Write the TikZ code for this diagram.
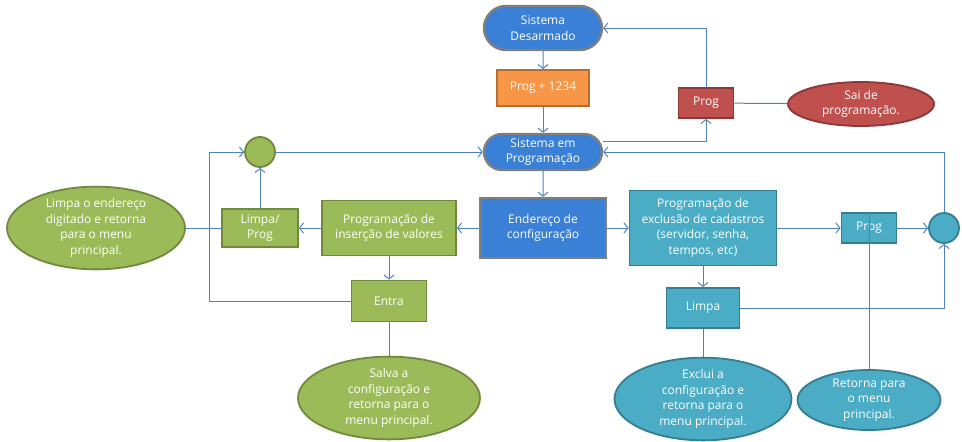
\documentclass[tikz,border=0pt]{standalone}
\usepackage{fontspec}
\setmainfont{Open Sans}
\usetikzlibrary{shapes.geometric}
\usetikzlibrary{shapes.misc}
\usetikzlibrary{arrows.meta}
\definecolor[named]{LinkBlue}{HTML}{4F81BD}
\definecolor[named]{SysBlue}{HTML}{3A80D6}
\definecolor[named]{SysEdge}{HTML}{7F7F7F}
\definecolor[named]{ProgOrange}{HTML}{F79646}
\definecolor[named]{OrangeEdge}{HTML}{B66D31}
\definecolor[named]{ProgRed}{HTML}{C0504D}
\definecolor[named]{RedEdge}{HTML}{8C3836}
\definecolor[named]{ProgGreen}{HTML}{9BBB59}
\definecolor[named]{GreenEdge}{HTML}{71893F}
\definecolor[named]{ProgTeal}{HTML}{4BACC6}
\definecolor[named]{TealEdge}{HTML}{357D91}
\tikzset{
  blk/.style={draw,rectangle,line width=1.8pt,text=white,align=center,inner sep=0pt},
  pill/.style={blk,rounded rectangle,fill=SysBlue,draw=SysEdge,line width=2.4pt},
  oval/.style={blk,ellipse},
  dot/.style={blk,circle},
  greenish/.style={fill=ProgGreen,draw=GreenEdge},
  tealish/.style={fill=ProgTeal,draw=TealEdge},
  redish/.style={fill=ProgRed,draw=RedEdge},
  link/.style={draw=LinkBlue,line width=1pt,-{Straight Barb[length=4pt,width=10pt]}},
  wire/.style={draw=LinkBlue,line width=1pt},
}

\begin{document}
\begin{tikzpicture}[x=1pt,y=-1pt,font=\fontsize{12}{15.5}\selectfont]
  \useasboundingbox (0,0) rectangle (962,442);

  % top column
  \node[pill,minimum width=118pt,minimum height=44pt] (desarm) at (543,28) {Sistema\\Desarmado};
  \node[blk,fill=ProgOrange,draw=OrangeEdge,minimum width=92pt,minimum height=36pt] (senha) at (543,88) {Prog + 1234};
  \node[pill,minimum width=118pt,minimum height=36pt] (sisprog) at (543,152) {Sistema em\\Programação};
  \node[blk,redish,minimum width=55pt,minimum height=30pt] (progsai) at (706,103) {Prog};
  \node[oval,redish,minimum width=146pt,minimum height=44pt] (sai) at (861,104) {Sai de\\programação.};

  % left branch
  \node[dot,greenish,minimum size=30pt] (gdot) at (260,152) {};
  \node[blk,greenish,minimum width=76pt,minimum height=38pt] (limpaprog) at (260,228) {Limpa/\\Prog};
  \node[oval,greenish,minimum width=178pt,minimum height=67pt] (limpaoval) at (96,228) {Limpa o endereço\\digitado e retorna\\para o menu\\principal.};
  \node[blk,greenish,minimum width=134pt,minimum height=55pt] (insercao) at (389,228) {Programação de\\inserção de valores};
  \node[blk,greenish,minimum width=75pt,minimum height=41pt] (entra) at (389,301) {Entra};
  \node[oval,greenish,minimum width=182pt,minimum height=77pt] (salva) at (389,398) {Salva a\\configuração e\\retorna para o\\menu principal.};

  % middle
  \node[blk,fill=SysBlue,draw=SysEdge,line width=2.4pt,minimum width=126pt,minimum height=60pt] (endereco) at (543,228) {Endereço de\\configuração};

  % right branch
  \node[blk,tealish,minimum width=147pt,minimum height=75pt] (exclusao) at (703,228) {Programação de\\exclusão de cadastros\\(servidor, senha,\\tempos, etc)};
  \node[blk,tealish,minimum width=55pt,minimum height=30pt] (progteal) at (869,228) {Prog};
  \node[dot,tealish,minimum size=30pt] (tdot) at (944,228) {};
  \node[blk,tealish,minimum width=73pt,minimum height=40pt] (limpa) at (703,308) {Limpa};
  \node[oval,tealish,minimum width=177pt,minimum height=78pt] (exclui) at (703,399) {Exclui a\\configuração e\\retorna para o\\menu principal.};
  \node[oval,tealish,minimum width=143pt,minimum height=55pt] (retorna) at (869,400) {Retorna para\\o menu\\principal.};

  \coordinate (lcorner) at (209,152);

  % connectors
  \draw[link] (desarm) -- (senha);
  \draw[link] (senha) -- (sisprog);
  \draw[link] ([yshift=11pt]sisprog.east) -| (progsai);
  \draw[link] (progsai) |- (desarm);
  \draw[wire] (progsai) -- (sai);
  \draw[link] (gdot) -- (sisprog);
  \draw[link] (limpaprog) -- (gdot);
  \draw[link] (entra) -| (lcorner) -- (gdot);
  \draw[wire] (limpaoval) -- (limpaprog);
  \draw[link] (insercao) -- (limpaprog);
  \draw[link] (insercao) -- (entra);
  \draw[wire] (entra) -- (salva);
  \draw[link] (sisprog) -- (endereco);
  \draw[link] (endereco) -- (insercao);
  \draw[link] (endereco) -- (exclusao);
  \draw[link] (exclusao) -- (progteal);
  \draw[link] (progteal) -- (tdot);
  \draw[link] (tdot) |- (sisprog);
  \draw[link] (exclusao) -- (limpa);
  \draw[link] (limpa) -| (tdot);
  \draw[wire] (limpa) -- (exclui);
  \draw[wire] (progteal.north) -- (retorna.north);
\end{tikzpicture}
\end{document}
